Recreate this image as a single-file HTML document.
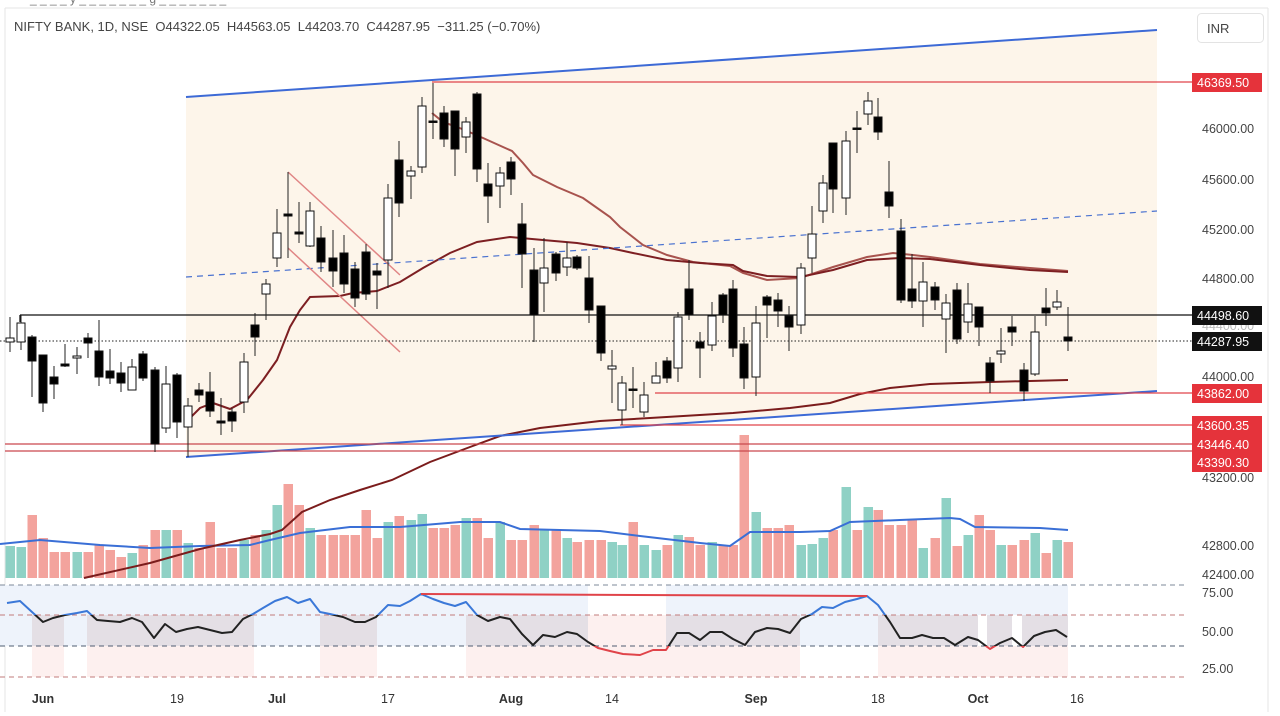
<!DOCTYPE html>
<html><head><meta charset="utf-8"><style>
html,body{margin:0;padding:0;background:#fff;width:1280px;height:716px;overflow:hidden}
svg{display:block;font-family:"Liberation Sans",sans-serif}
</style></head><body>
<svg id="c" width="1280" height="716" viewBox="0 0 1280 716" xmlns="http://www.w3.org/2000/svg">
<defs>
<clipPath id="cb"><rect x="0" y="0" width="1280" height="615"/></clipPath>
<clipPath id="ck"><rect x="0" y="615" width="1280" height="31"/></clipPath>
<clipPath id="cr"><rect x="0" y="646" width="1280" height="70"/></clipPath>
</defs>
<rect width="1280" height="716" fill="#fff"/>
<line x1="5" y1="8" x2="1268" y2="8" stroke="#e6e6e6"/>
<line x1="5" y1="8" x2="5" y2="712" stroke="#e6e6e6"/>
<line x1="1268" y1="8" x2="1268" y2="712" stroke="#e6e6e6"/>
<text x="30" y="3" font-size="12" fill="#777">_ _ _ _ y _ _ _ _ _ _ _ g _ _ _ _ _ _ _</text>
<text x="14" y="31" font-size="13" fill="#444" style="white-space:pre" xml:space="preserve">NIFTY BANK, 1D, NSE  O44322.05  H44563.05  L44203.70  C44287.95  −311.25 (−0.70%)</text>
<rect x="1197.5" y="13.5" width="66" height="29" rx="4" fill="#fff" stroke="#e3e3e3"/>
<text x="1207" y="33" font-size="13" fill="#444">INR</text>
<polygon points="186,97 1157,30 1157,391 186,457" fill="#fdf5ea"/>
<g>
<rect x="0" y="585" width="588" height="30" fill="#eef3fb"/>
<rect x="666" y="585" width="402" height="30" fill="#eef3fb"/>
<rect x="0" y="615" width="32" height="31" fill="#eef3fb"/>
<rect x="32" y="615" width="32" height="31" fill="#e4dfe5"/>
<rect x="64" y="615" width="23" height="31" fill="#eef3fb"/>
<rect x="87" y="615" width="167" height="31" fill="#e4dfe5"/>
<rect x="254" y="615" width="66" height="31" fill="#eef3fb"/>
<rect x="320" y="615" width="57" height="31" fill="#e4dfe5"/>
<rect x="377" y="615" width="89" height="31" fill="#eef3fb"/>
<rect x="466" y="615" width="122" height="31" fill="#e4dfe5"/>
<rect x="588" y="615" width="78" height="31" fill="#fdf0ef"/>
<rect x="666" y="615" width="134" height="31" fill="#e4dfe5"/>
<rect x="800" y="615" width="78" height="31" fill="#eef3fb"/>
<rect x="878" y="615" width="100" height="31" fill="#e4dfe5"/>
<rect x="987" y="615" width="25" height="31" fill="#e4dfe5"/>
<rect x="1022" y="615" width="46" height="31" fill="#e4dfe5"/>
<rect x="32" y="646" width="32" height="31" fill="#fdf0ef"/>
<rect x="87" y="646" width="167" height="31" fill="#fdf0ef"/>
<rect x="320" y="646" width="57" height="31" fill="#fdf0ef"/>
<rect x="466" y="646" width="334" height="31" fill="#fdf0ef"/>
<rect x="878" y="646" width="190" height="31" fill="#fdf0ef"/>
</g>
<g stroke-dasharray="5,4" stroke-width="1">
<line x1="0" y1="585" x2="1185" y2="585" stroke="#7d8a9a"/>
<line x1="0" y1="615" x2="1185" y2="615" stroke="#c27b7b"/>
<line x1="0" y1="646" x2="1185" y2="646" stroke="#4f5d72"/>
<line x1="0" y1="677" x2="1185" y2="677" stroke="#c27b7b"/>
</g>
<g id="vol"></g>
<polyline fill="none" stroke="#3a6fd6" stroke-width="2" points="0,544 40,540 100,545 150,548 200,546 250,545 270,540 300,533 350,527 400,527 460,522 500,522 520,529 600,531 640,536 700,543 730,546 750,532 800,532 830,531 850,522 900,520 950,518 960,519 975,527 1040,528 1068,530"/>
<polyline fill="none" stroke="#7b1c1c" stroke-width="2" points="84,578 150,563 200,549 240,540 270,534 282,530 302,512 330,500 360,490 392,480 430,462 470,447 500,436 540,428 600,421 650,418 733,413 790,408 830,403 860,394 890,388 930,384 990,382 1068,380"/>
<polyline fill="none" stroke="#a8534e" stroke-width="2" points="432,113 443,122 457,127 467,131 483,138 503,147 512,151 523,163 533,175 557,187 583,198 610,217 620,227 643,245 667,255 693,262 730,266 743,273 767,280 800,278 833,267 867,257 893,253 913,255 930,257 980,264 1068,271"/>
<polyline fill="none" stroke="#7d1f22" stroke-width="2" points="188,420 200,408 213,403 230,409 247,400 263,380 277,360 290,327 300,310 310,297 340,296 353,293 377,291 400,282 423,268 450,253 477,242 510,237 543,240 577,243 610,248 633,253 667,260 700,263 733,265 743,271 767,276 800,277 833,270 867,260 900,258 930,259 980,265 1030,270 1068,272"/>
<line x1="186" y1="97" x2="1157" y2="30" stroke="#3d6ad6" stroke-width="2"/>
<line x1="186" y1="457" x2="1157" y2="391" stroke="#3d6ad6" stroke-width="2"/>
<line x1="186" y1="277" x2="1157" y2="211" stroke="#4a72d0" stroke-width="1.2" stroke-dasharray="6,5"/>
<line x1="288" y1="172" x2="400" y2="275" stroke="#e08585" stroke-width="1.5"/>
<line x1="288" y1="248" x2="400" y2="352" stroke="#e08585" stroke-width="1.5"/>
<line x1="432" y1="82" x2="1192" y2="82" stroke="#e0444a" stroke-width="1.2"/>
<line x1="20" y1="315" x2="1192" y2="315" stroke="#111" stroke-width="1.3"/>
<line x1="20" y1="315" x2="20" y2="322" stroke="#111" stroke-width="1.3"/>
<line x1="0" y1="341" x2="1192" y2="341" stroke="#222" stroke-width="1" stroke-dasharray="1.5,2"/>
<line x1="655" y1="393" x2="1192" y2="393" stroke="#e0444a" stroke-width="1.2"/>
<line x1="620" y1="425" x2="1192" y2="425" stroke="#e0444a" stroke-width="1.2"/>
<line x1="5" y1="444" x2="1192" y2="444" stroke="#c9474d" stroke-width="1.2"/>
<line x1="5" y1="451" x2="1192" y2="451" stroke="#c9474d" stroke-width="1.2"/>
<g id="cand"></g>
<g id="rsi"></g>
<line x1="421" y1="594" x2="867" y2="596" stroke="#e0444a" stroke-width="2"/>
<g font-size="12.5" fill="#444">
<text x="1202" y="133">46000.00</text>
<text x="1202" y="184">45600.00</text>
<text x="1202" y="234">45200.00</text>
<text x="1202" y="283">44800.00</text>
<text x="1202" y="330" fill="#bbb">44400.00</text>
<text x="1202" y="381">44000.00</text>
<text x="1202" y="482">43200.00</text>
<text x="1202" y="550">42800.00</text>
<text x="1202" y="579">42400.00</text>
<text x="1202" y="597">75.00</text>
<text x="1202" y="636">50.00</text>
<text x="1202" y="673">25.00</text>
</g>
<g font-size="12.5" fill="#fff">
<rect x="1192" y="73" width="70" height="19" fill="#e5333b"/><text x="1197" y="87">46369.50</text>
<rect x="1192" y="306" width="70" height="19" fill="#111"/><text x="1197" y="320">44498.60</text>
<rect x="1192" y="332" width="70" height="19" fill="#111"/><text x="1197" y="346">44287.95</text>
<rect x="1192" y="384" width="70" height="19" fill="#e5333b"/><text x="1197" y="398">43862.00</text>
<rect x="1192" y="416" width="70" height="19" fill="#e5333b"/><text x="1197" y="430">43600.35</text>
<rect x="1192" y="435" width="70" height="18" fill="#e5333b"/><text x="1197" y="449">43446.40</text>
<rect x="1192" y="453" width="70" height="19" fill="#e5333b"/><text x="1197" y="467">43390.30</text>
</g>
<g font-size="12.5" fill="#333" text-anchor="middle">
<text x="43" y="703" font-weight="bold">Jun</text>
<text x="177" y="703">19</text>
<text x="277" y="703" font-weight="bold">Jul</text>
<text x="388" y="703">17</text>
<text x="511" y="703" font-weight="bold">Aug</text>
<text x="612" y="703">14</text>
<text x="756" y="703" font-weight="bold">Sep</text>
<text x="878" y="703">18</text>
<text x="978" y="703" font-weight="bold">Oct</text>
<text x="1077" y="703">16</text>
</g>
</svg>
<script>
var C=[[10,338,342,317,352,1],[21,323,342,315,350,1],[32,337,361,335,397,0],[43,355,403,355,412,0],[54,377,384,366,399,0],[65,364,366,344,367,0],[77,356,358,347,374,1],[88,338,343,333,358,0],[99,351,377,320,386,0],[110,371,378,349,384,0],[121,373,383,362,392,0],[132,367,390,359,390,1],[143,354,378,351,381,0],[155,370,444,367,452,0],[166,384,428,366,433,1],[177,375,422,373,438,0],[188,406,427,398,457,1],[199,390,395,383,402,0],[210,392,411,372,417,0],[221,421,423,398,435,0],[232,412,421,408,432,0],[244,362,402,353,413,1],[255,325,337,313,356,0],[266,284,294,279,320,1],[277,233,258,209,267,1],[288,214,216,172,258,0],
[299,232,234,202,243,0],[310,211,246,202,247,1],[321,238,262,226,272,0],[333,258,271,230,287,0],[344,253,284,235,293,0],[355,269,298,262,307,0],[366,252,294,244,300,0],[377,271,275,263,309,0],[388,198,260,184,288,1],[399,160,203,141,217,0],[411,171,176,166,199,1],[422,106,167,97,173,1],[433,121,122,83,139,0],[444,113,139,106,147,0],[455,111,149,111,176,0],[466,122,137,117,153,1],[477,94,169,92,182,0],[488,184,196,163,223,0],[500,173,186,167,208,1],[511,162,179,157,195,0],[522,224,254,203,288,0],[534,270,315,248,342,0],[544,268,283,238,312,1],[556,254,273,252,281,0],[567,258,267,242,276,1],[577,257,268,255,270,0],[589,278,310,256,323,0],[601,306,353,306,361,0],[612,366,369,350,403,1],
[622,383,410,376,425,1],[633,389,390,367,408,0],[644,395,412,382,417,1],[656,376,383,362,383,1],[667,361,378,357,383,0],[678,317,368,312,382,1],[689,289,315,260,320,0],[700,342,348,332,378,0],[712,316,345,302,351,1],[723,295,315,293,323,0],[733,289,348,280,357,0],[744,344,378,327,389,0],[756,323,377,306,396,1],[767,297,305,295,338,0],[778,300,311,293,327,0],[789,316,327,306,351,0],[801,268,325,263,334,1],[812,234,258,206,273,1],[823,183,211,175,223,1],[833,143,189,143,213,0],[846,141,198,131,215,1],[857,128,129,111,153,0],[868,101,114,92,125,1],[878,117,132,98,140,0],[889,192,206,161,218,0],
[901,231,300,219,303,0],[912,289,301,254,308,0],[923,282,301,262,327,1],[935,287,300,282,310,0],[946,303,319,294,353,1],[957,290,339,283,344,0],[968,304,322,283,333,1],[979,307,327,307,346,0],[990,363,381,357,393,0],[1001,351,354,328,363,1],[1012,327,332,316,346,0],[1024,370,391,363,401,0],[1035,332,374,316,376,1],[1046,308,313,288,326,0],[1057,302,307,290,310,1],[1068,337,341,307,351,0]];
var V=[546,547,515,538,552,552,552,552,545,550,557,553,545,530,530,530,543,548,522,548,548,540,535,530,505,484,505,528,535,535,535,535,510,538,522,516,520,514,528,528,525,518,518,538,522,540,540,525,530,530,538,542,540,540,542,545,522,545,550,545,535,537,545,542,545,545,435,512,528,528,525,545,544,538,530,487,530,507,510,525,525,520,548,538,498,546,535,515,530,545,545,540,533,553,540,542];
var s='',v='';
for(var i=0;i<C.length;i++){var c=C[i],x=c[0];
s+='<line x1="'+x+'" y1="'+c[3]+'" x2="'+x+'" y2="'+c[4]+'" stroke="#222" stroke-width="1"/>';
var h=Math.max(1.5,c[2]-c[1]);
s+='<rect x="'+(x-4)+'" y="'+c[1]+'" width="8" height="'+h+'" fill="'+(c[5]?'#fff':'#000')+'" stroke="#111" stroke-width="1"/>';
var t=V[i]||540;
v+='<rect x="'+(x-4.5)+'" y="'+t+'" width="9.5" height="'+(578-t)+'" fill="'+(c[5]?'#8fd1c5':'#f3a39d')+'"/>';}
document.getElementById('cand').innerHTML=s;
document.getElementById('vol').innerHTML=v;
var R="7,603 20,601 32,612 43,622 53,618 65,615 77,613 87,611 97,620 108,621 120,622 132,618 142,622 154,638 165,624 176,632 187,629 198,627 210,630 222,633 232,632 243,619 253,614 263,608 275,601 287,597 298,603 310,599 320,612 330,614 343,617 355,622 365,622 376,617 388,605 400,606 410,601 421,594 433,599 444,603 455,606 466,602 477,615 488,621 500,617 510,619 522,634 533,645 543,635 555,637 567,632 577,634 588,642 598,648 610,651 623,654 640,655 653,650 666,650 677,633 689,633 700,640 710,632 722,632 733,639 745,645 755,632 767,628 778,629 790,633 801,619 812,614 822,607 833,608 845,602 857,599 867,596 878,605 890,622 900,638 912,638 922,635 933,638 944,638 955,645 968,637 978,640 990,649 1000,643 1012,638 1023,647 1034,636 1045,632 1056,630 1067,637";
var r='';
[['cb','#3b78d8'],['ck','#222'],['cr','#e0444a']].forEach(function(p){r+='<polyline clip-path="url(#'+p[0]+')" fill="none" stroke="'+p[1]+'" stroke-width="2" stroke-linejoin="round" points="'+R+'"/>';});
document.getElementById('rsi').innerHTML=r;
</script>
</body></html>
